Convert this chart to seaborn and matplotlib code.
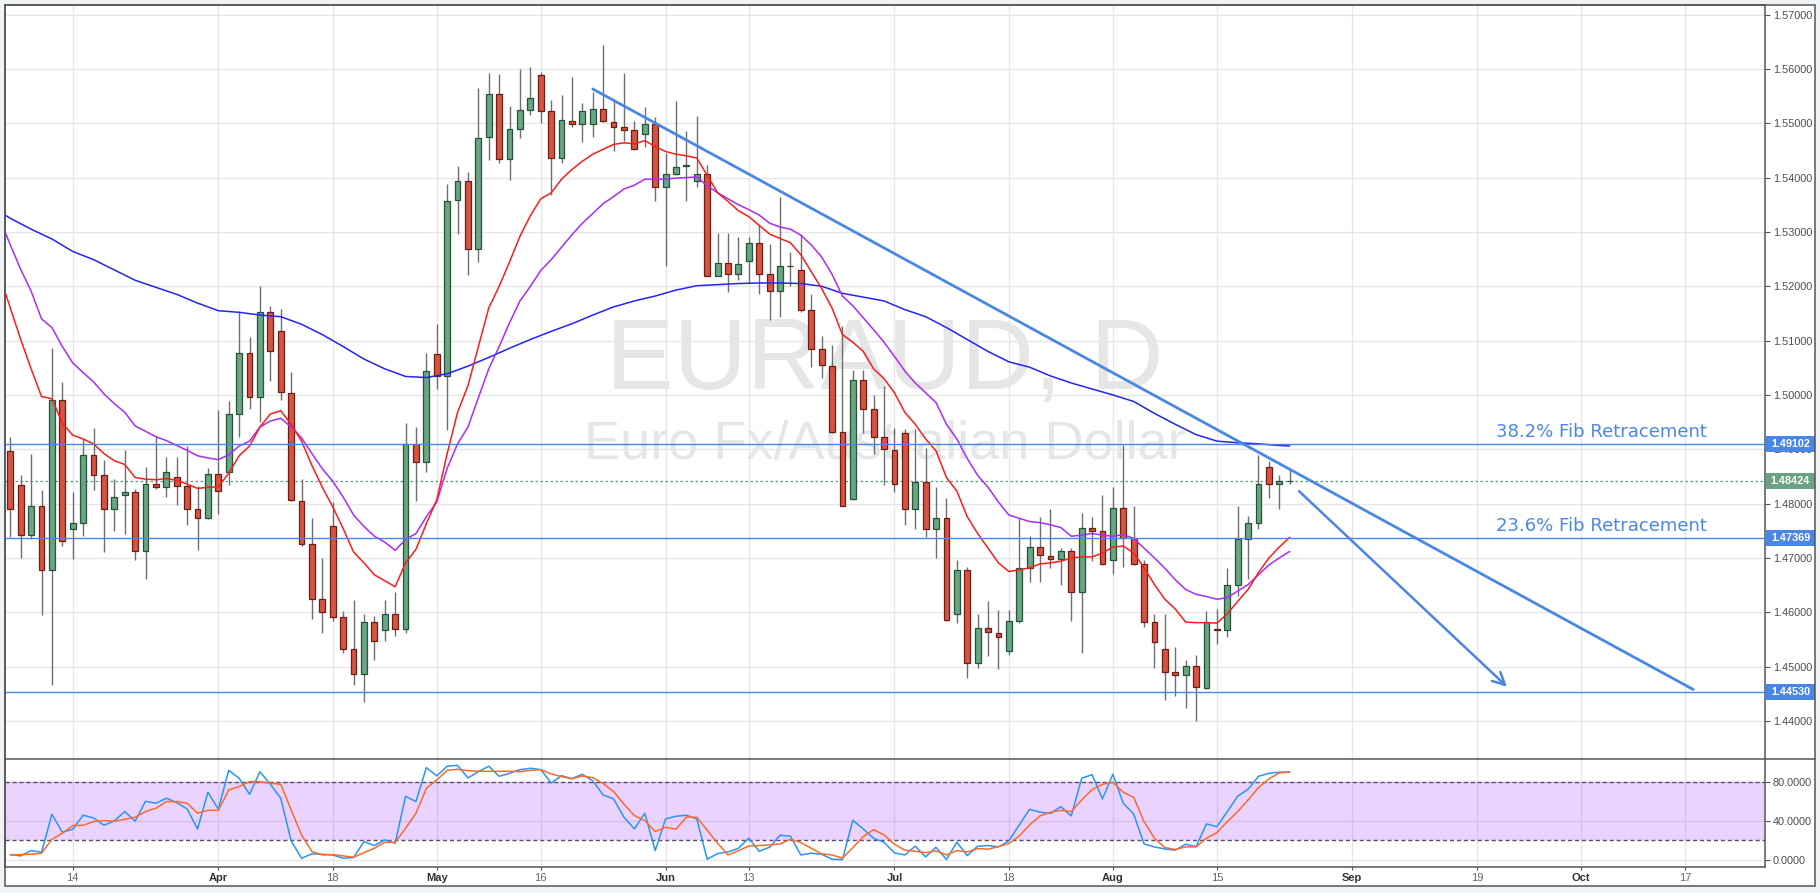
import numpy as np
import pandas as pd
import matplotlib
matplotlib.use("Agg")
import matplotlib.pyplot as plt
import matplotlib.transforms as mtransforms
from matplotlib.patches import Rectangle
from matplotlib.lines import Line2D
import seaborn as sns

# ------------------------------------------------------------
# EURAUD daily, 4 Mar - 24 Aug 2016
# ------------------------------------------------------------
start_day = "2016-03-04"

opens = [
    1.4897, 1.4835, 1.4742, 1.4796, 1.4678, 1.4990, 1.4754, 1.4765, 1.4890, 1.4853,
    1.4790, 1.4815, 1.4822, 1.4712, 1.4836, 1.4830, 1.4849, 1.4833, 1.4790, 1.4773,
    1.4855, 1.4859, 1.4964, 1.5078, 1.4996, 1.5153, 1.5118, 1.5004, 1.4805, 1.4725,
    1.4624, 1.4759, 1.4591, 1.4533, 1.4487, 1.4582, 1.4568, 1.4597, 1.4570, 1.4909,
    1.4876, 1.5075, 1.5034, 1.5358, 1.5393, 1.5268, 1.5474, 1.5553, 1.5434, 1.5489,
    1.5525, 1.5588, 1.5523, 1.5436, 1.5505, 1.5498, 1.5499, 1.5527, 1.5503, 1.5493,
    1.5488, 1.5480, 1.5499, 1.5382, 1.5406, 1.5421, 1.5394, 1.5406, 1.5219, 1.5243,
    1.5222, 1.5246, 1.5279, 1.5223, 1.5191, 1.5238, 1.5229, 1.5157, 1.5084, 1.5054,
    1.4931, 1.4809, 1.5028, 1.4974, 1.4922, 1.4899, 1.4930, 1.4791, 1.4839, 1.4753,
    1.4773, 1.4596, 1.4678, 1.4506, 1.4571, 1.4562, 1.4528, 1.4584, 1.4681, 1.4721,
    1.4704, 1.4698, 1.4713, 1.4638, 1.4756, 1.4750, 1.4696, 1.4792, 1.4736, 1.4688,
    1.4583, 1.4533, 1.4491, 1.4485, 1.4501, 1.4461, 1.4569, 1.4568, 1.4650, 1.4734,
    1.4765, 1.4868, 1.4836, 1.4841,
]
highs = [
    1.4923, 1.4853, 1.4892, 1.4825, 1.5086, 1.5023, 1.4821, 1.4919, 1.4940, 1.4881,
    1.4846, 1.4898, 1.4827, 1.4868, 1.4925, 1.4885, 1.4885, 1.4906, 1.4832, 1.4866,
    1.4973, 1.4988, 1.5155, 1.5106, 1.5201, 1.5163, 1.5159, 1.5043, 1.4846, 1.4773,
    1.4700, 1.4803, 1.4602, 1.4622, 1.4597, 1.4593, 1.4622, 1.4637, 1.4948, 1.4941,
    1.5077, 1.5130, 1.5388, 1.5422, 1.5410, 1.5565, 1.5593, 1.5590, 1.5532, 1.5599,
    1.5604, 1.5595, 1.5543, 1.5552, 1.5585, 1.5537, 1.5558, 1.5644, 1.5541, 1.5592,
    1.5504, 1.5529, 1.5512, 1.5446, 1.5541, 1.5485, 1.5514, 1.5423, 1.5298, 1.5298,
    1.5291, 1.5291, 1.5313, 1.5278, 1.5364, 1.5263, 1.5297, 1.5186, 1.5109, 1.5091,
    1.5127, 1.5046, 1.5046, 1.4999, 1.5016, 1.4940, 1.4937, 1.4938, 1.4902, 1.4831,
    1.4810, 1.4696, 1.4684, 1.4597, 1.4620, 1.4605, 1.4605, 1.4773, 1.4740, 1.4776,
    1.4790, 1.4718, 1.4718, 1.4783, 1.4776, 1.4815, 1.4831, 1.4907, 1.4795, 1.4696,
    1.4596, 1.4596, 1.4537, 1.4513, 1.4522, 1.4602, 1.4606, 1.4682, 1.4795, 1.4777,
    1.4890, 1.4879, 1.4852, 1.4861,
]
lows = [
    1.4738, 1.4700, 1.4734, 1.4595, 1.4466, 1.4722, 1.4698, 1.4740, 1.4825, 1.4711,
    1.4749, 1.4744, 1.4697, 1.4662, 1.4827, 1.4813, 1.4798, 1.4760, 1.4715, 1.4771,
    1.4780, 1.4835, 1.4923, 1.4974, 1.4950, 1.5026, 1.4990, 1.4805, 1.4722, 1.4587,
    1.4562, 1.4584, 1.4526, 1.4466, 1.4435, 1.4512, 1.4548, 1.4556, 1.4562, 1.4805,
    1.4859, 1.5011, 1.4936, 1.5297, 1.5220, 1.5245, 1.5432, 1.5426, 1.5395, 1.5473,
    1.5516, 1.5501, 1.5367, 1.5427, 1.5493, 1.5466, 1.5475, 1.5503, 1.5448, 1.5468,
    1.5450, 1.5456, 1.5356, 1.5238, 1.5404, 1.5356, 1.5383, 1.5218, 1.5218, 1.5190,
    1.5211, 1.5206, 1.5186, 1.5137, 1.5144, 1.5200, 1.5153, 1.5052, 1.5031, 1.4930,
    1.4795, 1.4806, 1.4930, 1.4892, 1.4834, 1.4821, 1.4761, 1.4754, 1.4739, 1.4700,
    1.4584, 1.4580, 1.4480, 1.4497, 1.4520, 1.4496, 1.4522, 1.4581, 1.4656, 1.4656,
    1.4681, 1.4651, 1.4584, 1.4526, 1.4694, 1.4687, 1.4671, 1.4684, 1.4687, 1.4573,
    1.4497, 1.4438, 1.4446, 1.4423, 1.4400, 1.4459, 1.4542, 1.4555, 1.4630, 1.4662,
    1.4754, 1.4811, 1.4791, 1.4837,
]
closes = [
    1.4790, 1.4742, 1.4796, 1.4678, 1.4990, 1.4731, 1.4765, 1.4890, 1.4853, 1.4790,
    1.4813, 1.4822, 1.4712, 1.4836, 1.4830, 1.4858, 1.4833, 1.4790, 1.4774, 1.4855,
    1.4823, 1.4964, 1.5078, 1.4996, 1.5153, 1.5081, 1.5005, 1.4806, 1.4725, 1.4624,
    1.4600, 1.4592, 1.4533, 1.4487, 1.4582, 1.4548, 1.4597, 1.4570, 1.4909, 1.4876,
    1.5044, 1.5034, 1.5357, 1.5393, 1.5268, 1.5472, 1.5553, 1.5434, 1.5489, 1.5525,
    1.5546, 1.5523, 1.5436, 1.5506, 1.5498, 1.5523, 1.5527, 1.5504, 1.5493, 1.5488,
    1.5452, 1.5499, 1.5382, 1.5406, 1.5420, 1.5424, 1.5406, 1.5219, 1.5243, 1.5222,
    1.5241, 1.5279, 1.5223, 1.5191, 1.5238, 1.5237, 1.5157, 1.5084, 1.5055, 1.4931,
    1.4796, 1.5028, 1.4974, 1.4923, 1.4900, 1.4837, 1.4791, 1.4839, 1.4753, 1.4773,
    1.4585, 1.4678, 1.4506, 1.4571, 1.4563, 1.4554, 1.4584, 1.4681, 1.4721, 1.4705,
    1.4699, 1.4713, 1.4638, 1.4756, 1.4750, 1.4688, 1.4792, 1.4736, 1.4688, 1.4583,
    1.4546, 1.4491, 1.4485, 1.4501, 1.4462, 1.4582, 1.4568, 1.4650, 1.4734, 1.4765,
    1.4836, 1.4836, 1.4841, 1.4842,
]

# moving averages, one value per bar starting one bar before the first candle
ma_fast = [
    1.5218, 1.5160, 1.5102, 1.5048, 1.4997, 1.4993, 1.4948, 1.4926, 1.4919, 1.4910,
    1.4892, 1.4879, 1.4872, 1.4848, 1.4845, 1.4844, 1.4846, 1.4843, 1.4836, 1.4828,
    1.4830, 1.4831, 1.4856, 1.4888, 1.4906, 1.4941, 1.4965, 1.4971, 1.4946, 1.4915,
    1.4870, 1.4830, 1.4794, 1.4754, 1.4711, 1.4691, 1.4669, 1.4658, 1.4647, 1.4691,
    1.4716, 1.4763, 1.4807, 1.4892, 1.4968, 1.5017, 1.5089, 1.5160, 1.5200, 1.5245,
    1.5292, 1.5330, 1.5361, 1.5372, 1.5397, 1.5415, 1.5430, 1.5443, 1.5452, 1.5461,
    1.5464, 1.5462, 1.5468, 1.5457, 1.5448, 1.5443, 1.5440, 1.5436, 1.5404, 1.5372,
    1.5356, 1.5339, 1.5328, 1.5312, 1.5296, 1.5288, 1.5280, 1.5258, 1.5227, 1.5196,
    1.5160, 1.5111, 1.5097, 1.5080, 1.5048, 1.5030, 1.5004, 1.4968, 1.4946, 1.4919,
    1.4897, 1.4848, 1.4823, 1.4776, 1.4745, 1.4718, 1.4691, 1.4675, 1.4678, 1.4682,
    1.4689, 1.4691, 1.4694, 1.4700, 1.4702, 1.4702, 1.4709, 1.4720, 1.4722, 1.4709,
    1.4682, 1.4651, 1.4624, 1.4606, 1.4582, 1.4581, 1.4581, 1.4580, 1.4597, 1.4620,
    1.4642, 1.4673, 1.4700, 1.4720, 1.4738,
]
ma_mid = [
    1.5323, 1.5276, 1.5231, 1.5191, 1.5140, 1.5124, 1.5089, 1.5059, 1.5041, 1.5024,
    1.5002, 1.4984, 1.4968, 1.4943, 1.4933, 1.4923, 1.4916, 1.4907, 1.4898, 1.4888,
    1.4884, 1.4881, 1.4890, 1.4906, 1.4915, 1.4941, 1.4952, 1.4957, 1.4941, 1.4921,
    1.4892, 1.4864, 1.4841, 1.4812, 1.4779, 1.4758, 1.4740, 1.4729, 1.4714, 1.4734,
    1.4745, 1.4776, 1.4803, 1.4865, 1.4910, 1.4941, 1.4995, 1.5048, 1.5089, 1.5133,
    1.5173, 1.5200, 1.5229, 1.5249, 1.5272, 1.5295, 1.5316, 1.5334, 1.5352, 1.5365,
    1.5379, 1.5386, 1.5397, 1.5397, 1.5397, 1.5399, 1.5400, 1.5401, 1.5385, 1.5372,
    1.5361, 1.5350, 1.5341, 1.5331, 1.5316, 1.5309, 1.5305, 1.5294, 1.5276, 1.5254,
    1.5222, 1.5182, 1.5164, 1.5142, 1.5120, 1.5097, 1.5071, 1.5044, 1.5022, 1.5004,
    1.4986, 1.4946, 1.4919, 1.4883, 1.4852, 1.4830, 1.4803, 1.4779, 1.4773, 1.4767,
    1.4765, 1.4761, 1.4756, 1.4740, 1.4742, 1.4745, 1.4742, 1.4740, 1.4743, 1.4736,
    1.4718, 1.4700, 1.4681, 1.4660, 1.4642, 1.4633, 1.4629, 1.4624, 1.4627, 1.4639,
    1.4651, 1.4669, 1.4687, 1.4700, 1.4712,
]
# slow average read every second bar
ma_slow_bar = [-1] + list(range(0, 123, 2)) + [123]
ma_slow = [
    1.5337, 1.5325, 1.5305, 1.5287, 1.5264, 1.5249, 1.5230, 1.5211, 1.5198, 1.5185,
    1.5169, 1.5155, 1.5152, 1.5147, 1.5144, 1.5130, 1.5111, 1.5089, 1.5066, 1.5048,
    1.5034, 1.5032, 1.5039, 1.5053, 1.5069, 1.5086, 1.5102, 1.5117, 1.5131, 1.5147,
    1.5162, 1.5173, 1.5182, 1.5193, 1.5201, 1.5203, 1.5205, 1.5206, 1.5206, 1.5205,
    1.5200, 1.5187, 1.5180, 1.5173, 1.5157, 1.5144, 1.5124, 1.5102, 1.5080, 1.5061,
    1.5051, 1.5035, 1.5022, 1.5011, 1.5000, 1.4988, 1.4966, 1.4946, 1.4927, 1.4915,
    1.4912, 1.4910, 1.4907, 1.4906,
]

# stochastic oscillator (%K blue, %D orange)
stoch_k = [
    5.2, 3.8, 9.3, 7.6, 46.9, 28.3, 31.4, 45.9, 43.1, 35.5,
    40.0, 49.7, 39.7, 60.4, 58.3, 63.5, 59.0, 52.4, 31.7, 69.7,
    52.1, 92.4, 84.1, 67.6, 91.0, 77.9, 63.5, 19.3, 1.4, 5.9,
    5.5, 4.8, 1.4, 2.1, 18.6, 14.5, 20.4, 16.9, 65.5, 60.0,
    95.2, 86.6, 96.6, 97.6, 84.5, 91.0, 96.6, 86.2, 89.3, 93.1,
    94.5, 93.1, 79.3, 86.9, 83.8, 88.3, 81.4, 66.9, 62.8, 43.8,
    31.7, 48.0, 9.3, 42.1, 44.8, 45.9, 42.1, 0.3, 6.2, 7.9,
    11.7, 22.1, 8.6, 12.8, 25.2, 24.2, 4.8, 6.6, 5.5, 0.3,
    0.0, 40.7, 31.7, 22.1, 17.9, 6.9, 4.8, 13.8, 2.8, 12.8,
    0.0, 17.9, 4.1, 13.8, 14.5, 13.1, 19.3, 35.9, 52.1, 49.0,
    47.9, 54.8, 45.2, 84.1, 87.9, 62.8, 88.3, 58.3, 47.2, 16.2,
    13.1, 11.0, 9.7, 15.9, 13.5, 36.9, 34.1, 49.7, 65.5, 72.8,
    86.2, 89.3, 90.4, 90.7,
]
stoch_d = [
    4.8, 5.2, 5.5, 6.6, 21.0, 27.3, 35.2, 35.5, 39.3, 40.4,
    39.7, 41.7, 43.8, 49.7, 53.1, 60.0, 60.0, 58.3, 48.0, 51.0,
    51.0, 72.1, 75.5, 80.7, 80.7, 79.0, 77.9, 51.4, 25.5, 8.3,
    4.8, 5.2, 3.8, 2.4, 7.2, 11.7, 17.9, 17.9, 32.4, 48.0,
    73.8, 82.4, 92.4, 93.5, 92.1, 91.4, 91.4, 91.4, 91.4, 91.0,
    92.4, 93.1, 88.6, 85.9, 83.5, 86.6, 84.8, 78.6, 70.4, 57.2,
    45.5, 40.4, 29.0, 33.5, 31.4, 44.1, 43.8, 30.4, 16.9, 4.8,
    9.3, 14.1, 14.5, 15.2, 16.2, 21.0, 17.6, 11.7, 5.9, 4.8,
    1.4, 12.4, 23.8, 31.0, 25.5, 15.9, 9.7, 8.6, 7.2, 9.0,
    4.8, 9.3, 7.9, 11.4, 10.7, 13.5, 16.6, 24.5, 35.9, 45.2,
    49.0, 51.0, 49.7, 61.7, 72.4, 77.9, 80.0, 69.7, 64.5, 39.3,
    22.1, 12.4, 10.4, 13.1, 13.1, 22.1, 27.9, 39.3, 49.7, 61.7,
    74.5, 83.5, 89.7, 90.7,
]

# drawings
fib_levels = [1.49102, 1.47369, 1.44530]
fib_names = ["38.2% Fib Retracement", "23.6% Fib Retracement", ""]
last_price = 1.48424
trend_bar = [56.0, 161.8]
trend_price = [1.5563, 1.4458]
arrow_bar = [123.9, 143.9]
arrow_price = [1.4823, 1.4463]

tick_dates = ["2016-03-14", "2016-04-01", "2016-04-18", "2016-05-02", "2016-05-16",
              "2016-06-01", "2016-06-13", "2016-07-01", "2016-07-18", "2016-08-01",
              "2016-08-15", "2016-09-01", "2016-09-19", "2016-10-03", "2016-10-17"]
tick_names = ["14", "Apr", "18", "May", "16", "Jun", "13", "Jul", "18", "Aug",
              "15", "Sep", "19", "Oct", "17"]
month_names = {"Apr", "May", "Jun", "Jul", "Aug", "Sep", "Oct"}

# ------------------------------------------------------------
sns.set_theme(style="white")
plt.rcParams["font.family"] = ["Liberation Sans", "DejaVu Sans"]

W, H = 1820, 893
fig = plt.figure(figsize=(W / 100, H / 100), dpi=100, facecolor="#f0f3f6")


def fx(px):
    return px / W


def fy(py):
    return 1 - py / H


LEFT, RIGHT, TOP, SPLIT, BOTTOM, OUTER_R, OUTER_B = 4.7, 1765, 5.3, 759.3, 867.3, 1815, 885.7
ax = fig.add_axes([fx(LEFT), fy(SPLIT), fx(RIGHT) - fx(LEFT), fy(TOP) - fy(SPLIT)])
osc = fig.add_axes([fx(LEFT), fy(BOTTOM), fx(RIGHT) - fx(LEFT), fy(SPLIT) - fy(BOTTOM)])

fig.add_artist(Rectangle((fx(LEFT), fy(OUTER_B)), fx(OUTER_R) - fx(LEFT), fy(TOP) - fy(OUTER_B),
                         transform=fig.transFigure, fc="white", ec="none", zorder=-5))

days = pd.bdate_range(start_day, periods=175)
tick_pos = [days.get_loc(pd.Timestamp(d)) for d in tick_dates]
bars = np.arange(len(opens))
o, h, l, c = map(np.array, (opens, highs, lows, closes))
up = c >= o

# candles
ax.vlines(bars, l, h, color="#6f6f6f", lw=1.0, zorder=3)
ax.bar(bars, np.maximum(np.abs(c - o), 0.00008), bottom=np.minimum(o, c), width=0.56,
       color=np.where(up, "#6ba583", "#d75442"), edgecolor=np.where(up, "#225437", "#6d1d14"),
       linewidth=0.9, zorder=4)

# averages
ma_bars = np.arange(-1, len(opens))
sns.lineplot(x=ma_slow_bar, y=ma_slow, ax=ax, color="#2323ff", linewidth=1.1, zorder=5, estimator=None)
sns.lineplot(x=ma_bars, y=ma_mid, ax=ax, color="#a92cff", linewidth=1.1, zorder=5, estimator=None)
sns.lineplot(x=ma_bars, y=ma_fast, ax=ax, color="#ff1c1c", linewidth=1.1, zorder=5, estimator=None)

# watermark
ax.text(0.5001, 0.4911, "EURAUD, D", transform=ax.transAxes, ha="center", va="baseline",
        fontsize=73, color="#e6e6e6", zorder=1)
ax.text(0.5001, 0.3996, "Euro Fx/Australian Dollar", transform=ax.transAxes, ha="center",
        va="baseline", fontsize=39, color="#e6e6e6", zorder=1)

# fib levels, last price, trend line and arrow
fib_col = "#4a86e8"
for lvl, name in zip(fib_levels, fib_names):
    ax.axhline(lvl, color=fib_col, lw=1.0, zorder=5)
    if name:
        ax.text(163.1, lvl + 0.0012, name, ha="right", va="baseline", color=fib_col,
                fontsize=13, family="DejaVu Sans", zorder=6)
ax.axhline(last_price, color="#5a9c76", lw=0.9, ls=(0, (2, 2)), zorder=2)
ax.plot(trend_bar, trend_price, color=fib_col, lw=2.0, solid_capstyle="round", zorder=6)
ax.annotate("", xy=(arrow_bar[1], arrow_price[1]), xytext=(arrow_bar[0], arrow_price[0]),
            arrowprops=dict(arrowstyle="->", color=fib_col, lw=1.8, mutation_scale=22,
                            shrinkA=0, shrinkB=0), zorder=6)

# oscillator
osc.axhspan(20, 80, color="#9c27ff", alpha=0.2, lw=0, zorder=1)
for lvl in (80, 20):
    osc.axhline(lvl, color="#5e4b6e", lw=1.0, ls=(0, (3, 2)), zorder=2)
sns.lineplot(x=bars, y=stoch_k, ax=osc, color="#2a95f5", linewidth=1.1, zorder=4, estimator=None)
sns.lineplot(x=bars, y=stoch_d, ax=osc, color="#ff6a2a", linewidth=1.1, zorder=5, estimator=None)

# axes styling
xlim = (-0.54, 168.7)
edge = "#555555"
for a in (ax, osc):
    a.set_xlim(*xlim)
    a.set_xlabel("")
    a.set_ylabel("")
    a.set_facecolor("white")
    a.set_axisbelow(True)
    a.set_xticks(tick_pos)
    a.grid(True, color="#e6e6e6", lw=1.0)
    a.yaxis.tick_right()
    a.tick_params(axis="y", right=True, left=False, direction="out", length=3.5, width=0.8,
                  color=edge, labelsize=7.8, labelcolor="#4d4d4d", pad=2.2)
    for s in a.spines.values():
        s.set_color(edge)
        s.set_linewidth(1.1)
ax.spines["bottom"].set_visible(False)
ax.tick_params(axis="x", bottom=False, labelbottom=False, length=0)

ax.set_ylim(1.43295, 1.5717)
yt = np.round(np.arange(1.44, 1.5701, 0.01), 2)
ax.set_yticks(yt)
ax.set_yticklabels([f"{v:.5f}" for v in yt])

osc.set_ylim(-8, 103.8)
osc.set_yticks([0, 40, 80])
osc.set_yticklabels([f"{v:.4f}" for v in (0, 40, 80)])
osc.set_xticklabels(tick_names)
osc.tick_params(axis="x", bottom=True, direction="out", length=2.5, width=0.8, color=edge,
                labelsize=8, pad=1.5)
for t in osc.get_xticklabels():
    if t.get_text() in month_names:
        t.set_fontweight("bold")
        t.set_color("#333333")
    else:
        t.set_color("#666666")

# price boxes on the axis
trans = mtransforms.blended_transform_factory(fig.transFigure, ax.transData)
box_h = (1.5717 - 1.43295) / (SPLIT - TOP) * 16
for lvl, col in [(1.49102, "#4a86e8"), (last_price, "#6aa383"), (1.47369, "#4a86e8"), (1.44530, "#4a86e8")]:
    fig.add_artist(Rectangle((fx(RIGHT + 1), lvl - box_h / 2), fx(OUTER_R) - fx(RIGHT + 1), box_h,
                             transform=trans, fc=col, ec="none", zorder=15))
    fig.text(fx((RIGHT + OUTER_R) / 2 + 0.5), lvl, f"{lvl:.5f}", transform=trans, ha="center",
             va="center", color="white", fontsize=7.8, fontweight="bold", zorder=16)

# outer frame
fig.add_artist(Line2D([fx(RIGHT), fx(OUTER_R)], [fy(SPLIT)] * 2, transform=fig.transFigure,
                      color=edge, lw=1.1, zorder=20))
fig.add_artist(Rectangle((fx(LEFT), fy(OUTER_B)), fx(OUTER_R) - fx(LEFT), fy(TOP) - fy(OUTER_B),
                         transform=fig.transFigure, fill=False, ec=edge, lw=1.1, zorder=20))

fig.savefig("out.png", dpi=100, facecolor=fig.get_facecolor())
